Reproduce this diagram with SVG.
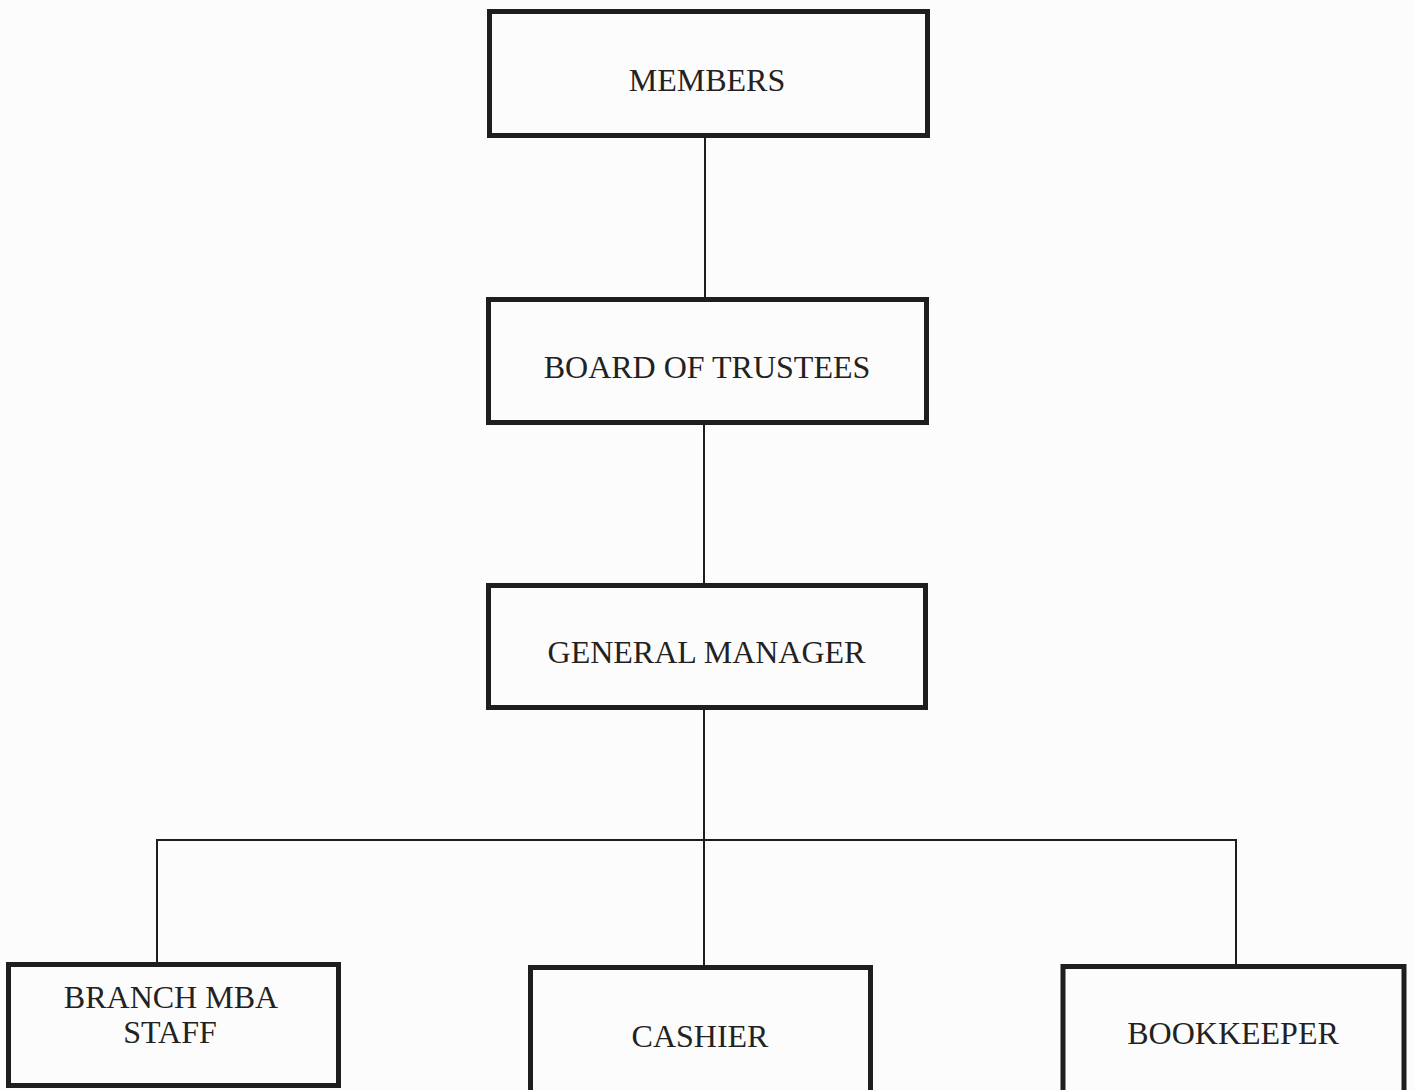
<svg xmlns="http://www.w3.org/2000/svg" width="1415" height="1090" viewBox="0 0 1415 1090">
  <style>
    .box { fill: none; stroke: #1e1e1e; stroke-width: 5; }
    .lbl { font-family: "Liberation Serif", "Times New Roman", serif; font-size: 32px; fill: #222; text-anchor: middle; }
    .wire { fill: none; stroke: #1e1e1e; stroke-width: 2; }
  </style>
  <rect width="1415" height="1090" fill="#fcfcfc"/>

  <!-- reporting lines -->
  <g id="connectors">
    <line class="wire" x1="705" y1="137" x2="705" y2="298"/>
    <line class="wire" x1="704" y1="424" x2="704" y2="584"/>
    <line class="wire" x1="704" y1="709" x2="704" y2="967"/>
    <polyline class="wire" points="157,964 157,840 1236,840 1236,966"/>
  </g>

  <g id="members">
    <rect class="box" x="489.5" y="11.5" width="438" height="124"/>
    <text class="lbl" x="707" y="91">MEMBERS</text>
  </g>

  <g id="board-of-trustees">
    <rect class="box" x="488.5" y="299.5" width="438" height="123"/>
    <text class="lbl" x="707" y="378">BOARD OF TRUSTEES</text>
  </g>

  <g id="general-manager">
    <rect class="box" x="488.5" y="585.5" width="437" height="122"/>
    <text class="lbl" x="706.5" y="663">GENERAL MANAGER</text>
  </g>

  <g id="branch-mba-staff">
    <rect class="box" x="8.5" y="964.5" width="330" height="121"/>
    <text class="lbl" x="171" y="1008">BRANCH MBA</text>
    <text class="lbl" x="170" y="1043">STAFF</text>
  </g>

  <g id="cashier">
    <rect class="box" x="530.5" y="967.5" width="340" height="130"/>
    <text class="lbl" x="700" y="1047">CASHIER</text>
  </g>

  <g id="bookkeeper">
    <rect class="box" x="1063" y="966.5" width="341" height="130"/>
    <text class="lbl" x="1233" y="1044">BOOKKEEPER</text>
  </g>
</svg>
